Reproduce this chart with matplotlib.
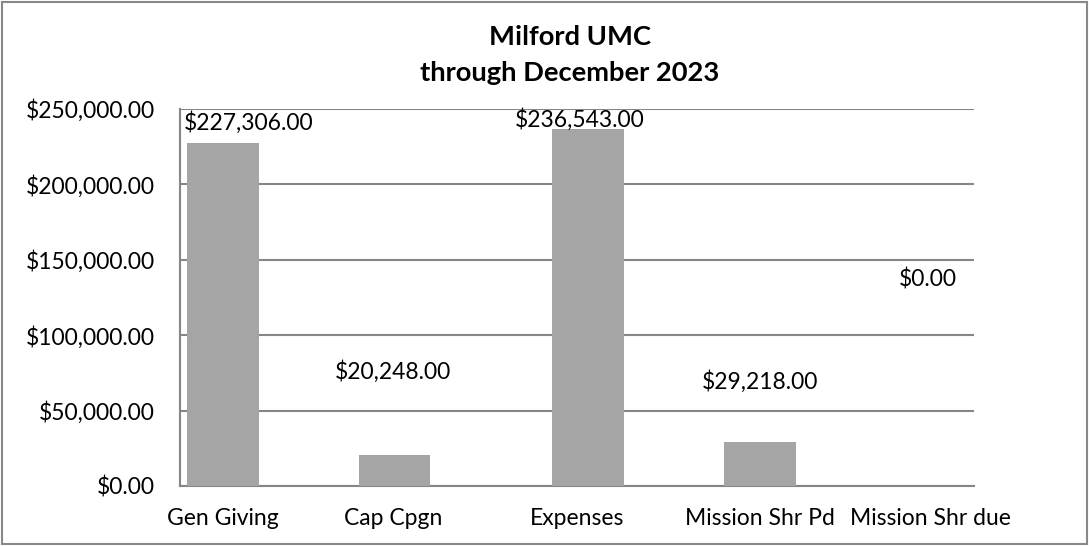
import matplotlib
matplotlib.use("Agg")
import matplotlib.pyplot as plt
from matplotlib.patches import Rectangle

# Data
categories = ["Gen Giving", "Cap Cpgn", "Expenses", "Mission Shr Pd", "Mission Shr due"]
values = [227306.00, 20248.00, 236543.00, 29218.00, 0.00]
y_ticks = [0, 50000, 100000, 150000, 200000, 250000]

# Layout tweaks (offsets inside each category slot, as in the original chart)
bar_shift = [-0.229, -0.149, 0.069, 0.152, 0.223]
tick_shift = [-0.232, -0.155, 0.0, 0.152, 0.223]
label_shift = [-0.069, -0.161, 0.019, 0.155, 0.211]
label_y = [240700, 75600, 242700, 69000, 136600]

plt.rcParams['font.family'] = ['Lato', 'DejaVu Sans']

fig = plt.figure(figsize=(10.89, 5.46), dpi=100)
ax = fig.add_axes([0.1653, 0.1099, 0.7291, 0.6905])

bar_color = '#a5a5a5'
grid_color = '#868686'

xs = [i + s for i, s in enumerate(bar_shift)]
ax.bar(xs, values, width=0.45, color=bar_color, zorder=3)

# data labels
for i, v in enumerate(values):
    ax.text(i + label_shift[i], label_y[i], "${:,.2f}".format(v),
            ha='center', va='center', fontsize=16.5, color='#000000', zorder=4)

ax.set_xlim(-0.5, 4.5)
ax.set_ylim(0, 250000)
ax.set_yticks(y_ticks)
ax.set_yticklabels(["${:,.2f}".format(t) for t in y_ticks])
ax.set_xticks([i + s for i, s in enumerate(tick_shift)])
ax.set_xticklabels(categories)
ax.tick_params(axis='y', length=0, pad=18, labelsize=16.5)
ax.tick_params(axis='x', length=0, pad=16, labelsize=16.5)

ax.yaxis.grid(True, color=grid_color, linewidth=1.5, zorder=0)
ax.set_axisbelow(True)
for side in ['top', 'right']:
    ax.spines[side].set_visible(False)
for side in ['left', 'bottom']:
    ax.spines[side].set_color(grid_color)
    ax.spines[side].set_linewidth(1.5)

# title
fig.text(0.5234, 1 - 37 / 546, "Milford UMC", ha='center', va='center',
         fontsize=19.7, fontweight='bold')
fig.text(0.5234, 1 - 73 / 546, "through December 2023", ha='center', va='center',
         fontsize=19.7, fontweight='bold')

# outer chart border
fig.patches.append(Rectangle((0.002, 0.003), 0.996, 0.993, transform=fig.transFigure,
                             fill=False, edgecolor='#888888', linewidth=1.5))

fig.savefig("out.png", dpi=100)
